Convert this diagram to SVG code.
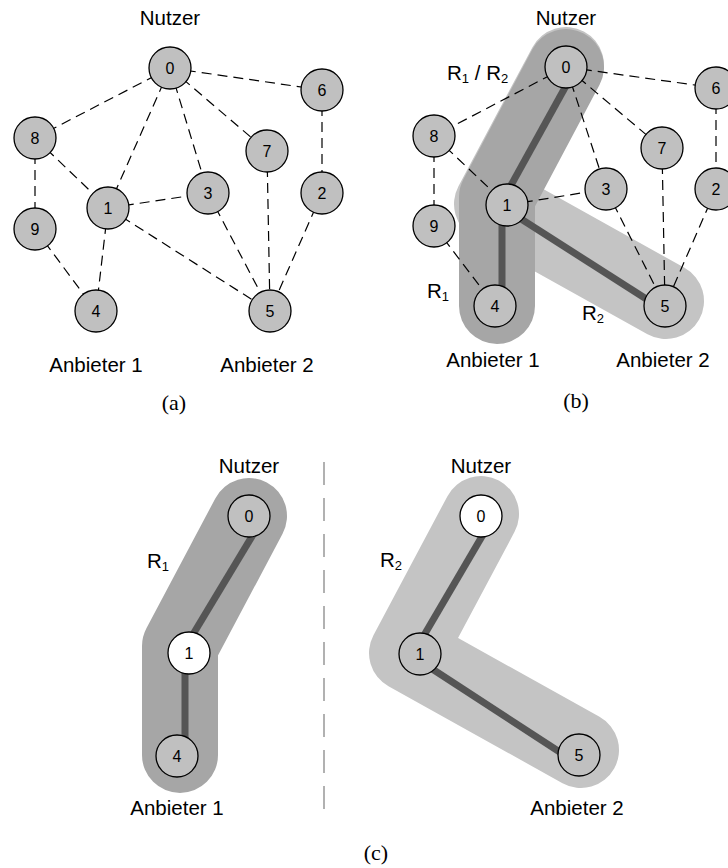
<svg xmlns="http://www.w3.org/2000/svg" width="728" height="868" viewBox="0 0 728 868">
  <style>
    .edge { stroke: #000; stroke-width: 1.2; stroke-dasharray: 10 6; fill: none; }
    .node circle { fill: #c0c0c0; stroke: #000; stroke-width: 1.3; }
    .node.white circle { fill: #fff; }
    .node text { font-family: "Liberation Sans", Arial, sans-serif; font-size: 16px; text-anchor: middle; fill: #000; }
    .label { font-family: "Liberation Sans", Arial, sans-serif; font-size: 20.5px; fill: #000; }
    .mid { text-anchor: middle; }
    .cap { font-family: "Liberation Serif", "Times New Roman", serif; font-size: 22px; text-anchor: middle; fill: #000; }
    .sub { font-size: 13px; }
    .band { fill: none; stroke-linecap: round; stroke-linejoin: round; stroke-width: 76; }
    .band1 { stroke: #a6a6a6; }
    .band2 { stroke: #c4c4c4; }
    .route { stroke: #555; stroke-width: 7; fill: none; }
    .sep { stroke: #888; stroke-width: 1.3; stroke-dasharray: 23 13; }
  </style>

  <!-- ===== Panel (a): full network ===== -->
  <g id="a-edges">
    <line class="edge" x1="170" y1="68" x2="35" y2="138"/>
    <line class="edge" x1="170" y1="68" x2="108" y2="208"/>
    <line class="edge" x1="170" y1="68" x2="208" y2="193"/>
    <line class="edge" x1="170" y1="68" x2="267" y2="151"/>
    <line class="edge" x1="170" y1="68" x2="322" y2="90"/>
    <line class="edge" x1="322" y1="90" x2="322" y2="193"/>
    <line class="edge" x1="35" y1="138" x2="108" y2="208"/>
    <line class="edge" x1="35" y1="138" x2="35" y2="229"/>
    <line class="edge" x1="35" y1="229" x2="96" y2="311"/>
    <line class="edge" x1="108" y1="208" x2="96" y2="311"/>
    <line class="edge" x1="108" y1="208" x2="208" y2="193"/>
    <line class="edge" x1="108" y1="208" x2="270" y2="311"/>
    <line class="edge" x1="208" y1="193" x2="270" y2="311"/>
    <line class="edge" x1="267" y1="151" x2="270" y2="311"/>
    <line class="edge" x1="322" y1="193" x2="270" y2="311"/>
  </g>
  <g id="a-n0" class="node"><circle cx="170" cy="68" r="21"/><text x="170" y="74">0</text></g>
  <g id="a-n6" class="node"><circle cx="322" cy="90" r="21"/><text x="322" y="96">6</text></g>
  <g id="a-n8" class="node"><circle cx="35" cy="138" r="21"/><text x="35" y="144">8</text></g>
  <g id="a-n7" class="node"><circle cx="267" cy="151" r="21"/><text x="267" y="157">7</text></g>
  <g id="a-n3" class="node"><circle cx="208" cy="193" r="21"/><text x="208" y="199">3</text></g>
  <g id="a-n2" class="node"><circle cx="322" cy="193" r="21"/><text x="322" y="199">2</text></g>
  <g id="a-n1" class="node"><circle cx="108" cy="208" r="21"/><text x="108" y="214">1</text></g>
  <g id="a-n9" class="node"><circle cx="35" cy="229" r="21"/><text x="35" y="235">9</text></g>
  <g id="a-n4" class="node"><circle cx="96" cy="311" r="21"/><text x="96" y="317">4</text></g>
  <g id="a-n5" class="node"><circle cx="270" cy="311" r="21"/><text x="270" y="317">5</text></g>
  <g id="a-labels">
    <text class="label mid" x="170" y="25">Nutzer</text>
    <text class="label mid" x="96" y="372">Anbieter 1</text>
    <text class="label mid" x="267" y="372">Anbieter 2</text>
    <text class="cap" x="174" y="410">(a)</text>
  </g>

  <!-- ===== Panel (b): network with both routes ===== -->
  <g id="b-bands">
    <path class="band band2" d="M566,65 L492,204 L666,301"/>
    <path class="band band1" d="M566,67 L497,197 L497,306"/>
  </g>
  <g id="b-routes">
    <line class="route" x1="567" y1="84" x2="510" y2="187"/>
    <line class="route" x1="502" y1="210" x2="502" y2="300"/>
    <line class="route" x1="507" y1="210" x2="662" y2="309"/>
  </g>
  <g id="b-edges">
    <line class="edge" x1="566" y1="67" x2="434" y2="136"/>
    <line class="edge" x1="566" y1="67" x2="606" y2="189"/>
    <line class="edge" x1="566" y1="67" x2="662" y2="148"/>
    <line class="edge" x1="566" y1="67" x2="716" y2="88"/>
    <line class="edge" x1="716" y1="88" x2="716" y2="189"/>
    <line class="edge" x1="434" y1="136" x2="507" y2="205"/>
    <line class="edge" x1="434" y1="136" x2="434" y2="226"/>
    <line class="edge" x1="434" y1="226" x2="495" y2="306"/>
    <line class="edge" x1="507" y1="205" x2="606" y2="189"/>
    <line class="edge" x1="606" y1="189" x2="665" y2="306"/>
    <line class="edge" x1="662" y1="148" x2="665" y2="306"/>
    <line class="edge" x1="716" y1="189" x2="665" y2="306"/>
  </g>
  <g id="b-n0" class="node"><circle cx="566" cy="67" r="21"/><text x="566" y="73">0</text></g>
  <g id="b-n6" class="node"><circle cx="716" cy="88" r="21"/><text x="716" y="94">6</text></g>
  <g id="b-n8" class="node"><circle cx="434" cy="136" r="21"/><text x="434" y="142">8</text></g>
  <g id="b-n7" class="node"><circle cx="662" cy="148" r="21"/><text x="662" y="154">7</text></g>
  <g id="b-n3" class="node"><circle cx="606" cy="189" r="21"/><text x="606" y="195">3</text></g>
  <g id="b-n2" class="node"><circle cx="716" cy="189" r="21"/><text x="716" y="195">2</text></g>
  <g id="b-n1" class="node"><circle cx="507" cy="205" r="21"/><text x="507" y="211">1</text></g>
  <g id="b-n9" class="node"><circle cx="434" cy="226" r="21"/><text x="434" y="232">9</text></g>
  <g id="b-n4" class="node"><circle cx="495" cy="306" r="21"/><text x="495" y="312">4</text></g>
  <g id="b-n5" class="node"><circle cx="665" cy="306" r="21"/><text x="665" y="312">5</text></g>
  <g id="b-labels">
    <text class="label mid" x="566" y="25">Nutzer</text>
    <text class="label" x="447" y="80">R<tspan class="sub" dy="3">1</tspan><tspan dy="-3"> / R</tspan><tspan class="sub" dy="3">2</tspan></text>
    <text class="label" x="427" y="298">R<tspan class="sub" dy="3">1</tspan></text>
    <text class="label" x="582" y="320">R<tspan class="sub" dy="3">2</tspan></text>
    <text class="label mid" x="493" y="367">Anbieter 1</text>
    <text class="label mid" x="663" y="367">Anbieter 2</text>
    <text class="cap" x="576" y="408">(b)</text>
  </g>

  <!-- ===== Panel (c): routes separated ===== -->
  <line id="c-separator" class="sep" x1="324" y1="462" x2="324" y2="813"/>

  <!-- left: route R1 -->
  <g id="c1-band">
    <path class="band band1" d="M249,516 L180,646 L180,755"/>
  </g>
  <g id="c1-routes">
    <line class="route" x1="254" y1="533" x2="192" y2="636"/>
    <line class="route" x1="185" y1="660" x2="185" y2="750"/>
  </g>
  <g id="c1-n0" class="node"><circle cx="249" cy="516" r="21"/><text x="249" y="522">0</text></g>
  <g id="c1-n1" class="node white"><circle cx="189" cy="653" r="21"/><text x="189" y="659">1</text></g>
  <g id="c1-n4" class="node"><circle cx="177" cy="756" r="21"/><text x="177" y="762">4</text></g>
  <g id="c1-labels">
    <text class="label mid" x="249" y="473">Nutzer</text>
    <text class="label" x="147" y="568">R<tspan class="sub" dy="3">1</tspan></text>
    <text class="label mid" x="177" y="815">Anbieter 1</text>
  </g>

  <!-- right: route R2 -->
  <g id="c2-band">
    <path class="band band2" d="M481,514 L407,653 L581,750"/>
  </g>
  <g id="c2-routes">
    <line class="route" x1="484" y1="533" x2="423" y2="637"/>
    <line class="route" x1="420" y1="661" x2="575" y2="762"/>
  </g>
  <g id="c2-n0" class="node white"><circle cx="481" cy="516" r="21"/><text x="481" y="522">0</text></g>
  <g id="c2-n1" class="node"><circle cx="420" cy="654" r="21"/><text x="420" y="660">1</text></g>
  <g id="c2-n5" class="node"><circle cx="579" cy="755" r="21"/><text x="579" y="761">5</text></g>
  <g id="c2-labels">
    <text class="label mid" x="481" y="473">Nutzer</text>
    <text class="label" x="380" y="567">R<tspan class="sub" dy="3">2</tspan></text>
    <text class="label mid" x="577" y="815">Anbieter 2</text>
  </g>

  <text id="c-caption" class="cap" x="376" y="860">(c)</text>
</svg>
